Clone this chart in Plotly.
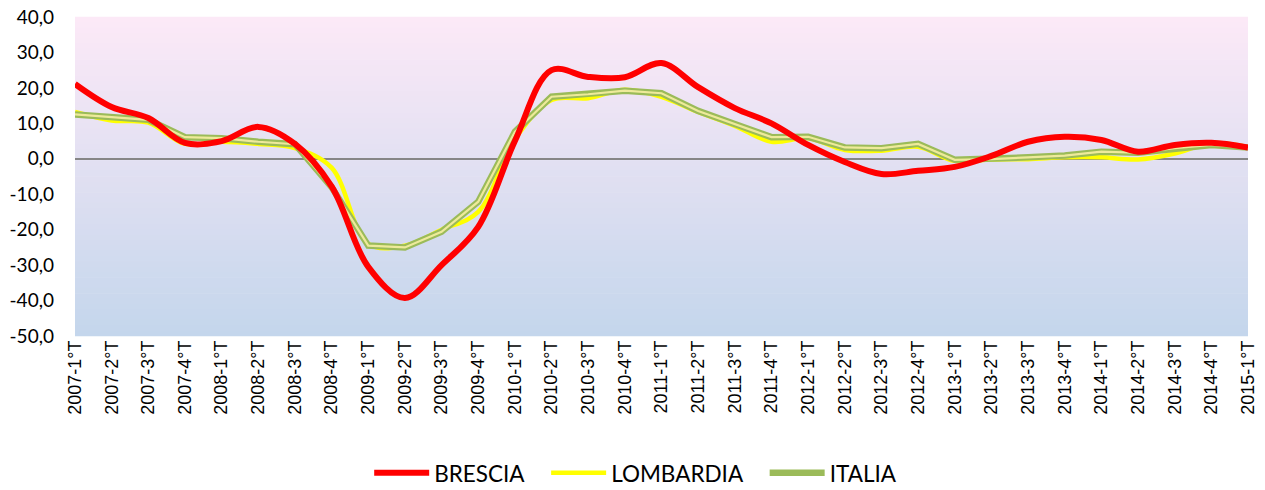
import plotly.graph_objects as go

quarters = ["2007-1°T","2007-2°T","2007-3°T","2007-4°T","2008-1°T","2008-2°T","2008-3°T","2008-4°T",
            "2009-1°T","2009-2°T","2009-3°T","2009-4°T","2010-1°T","2010-2°T","2010-3°T","2010-4°T",
            "2011-1°T","2011-2°T","2011-3°T","2011-4°T","2012-1°T","2012-2°T","2012-3°T","2012-4°T",
            "2013-1°T","2013-2°T","2013-3°T","2013-4°T","2014-1°T","2014-2°T","2014-3°T","2014-4°T",
            "2015-1°T"]

brescia = [21.1, 14.6, 11.5, 4.5, 5.0, 9.0, 4.2, -7.8, -30.5, -39.3, -30.0, -19.2, 5.0, 25.0, 23.1, 23.0,
           27.0, 20.2, 14.3, 10.0, 3.9, -0.9, -4.3, -3.4, -2.3, 0.8, 4.8, 6.2, 5.3, 2.0, 3.9, 4.5, 3.2]
lombardia = [13.2, 10.8, 10.2, 4.2, 4.8, 4.2, 3.0, -2.5, -24.0, -24.5, -20.0, -15.0, 5.5, 16.6, 17.1, 19.5,
             17.5, 13.2, 9.3, 4.8, 5.8, 2.5, 2.3, 3.4, -0.6, -0.2, -0.1, 0.4, 0.4, -0.2, 1.5, 4.4, 3.3]
italia = [12.5, 11.8, 11.0, 6.1, 5.8, 4.8, 4.1, -8.0, -24.5, -25.0, -20.6, -12.1, 7.6, 17.5, 18.2, 19.2,
          18.5, 13.5, 9.8, 6.1, 6.2, 3.2, 3.0, 4.2, -0.3, -0.1, 0.4, 0.9, 2.0, 1.7, 3.0, 3.9, 3.2]

y_ticks = [40, 30, 20, 10, 0, -10, -20, -30, -40, -50]
y_labels = ["40,0", "30,0", "20,0", "10,0", "0,0", "-10,0", "-20,0", "-30,0", "-40,0", "-50,0"]

PAD = "\u00a0\u00a0\u00a0"

fig = go.Figure()

fig.add_trace(go.Scatter(x=quarters, y=lombardia, mode="lines", name="LOMBARDIA" + PAD,
                         line=dict(color="#FFFF00", width=4.5, shape="spline", smoothing=1.0)))
fig.add_trace(go.Scatter(x=quarters, y=italia, mode="lines", name="ITALIA",
                         line=dict(color="#9BBB59", width=6.5)))
fig.add_trace(go.Scatter(x=quarters, y=italia, mode="lines", name="ITALIA_in",
                         line=dict(color="#EEEA9A", width=2.2), showlegend=False, hoverinfo="skip"))
fig.add_trace(go.Scatter(x=quarters, y=brescia, mode="lines", name="BRESCIA" + PAD,
                         line=dict(color="#FF0000", width=6, shape="spline", smoothing=1.0)))

# gradient background
top = (252, 233, 247)
bot = (196, 214, 236)
n = 60
shapes = []
for i in range(n):
    t = i / (n - 1)
    c = tuple(round(top[k] + (bot[k] - top[k]) * t) for k in range(3))
    y1 = 1 - i / n
    y0 = 1 - (i + 1) / n
    shapes.append(dict(type="rect", xref="paper", yref="paper", x0=0, x1=1, y0=y0 - 0.001, y1=y1 + 0.001,
                       fillcolor="rgb(%d,%d,%d)" % c, line=dict(width=0), layer="below"))

fig.update_layout(
    width=1265, height=490,
    margin=dict(l=75, r=17, t=17, b=154, autoexpand=False),
    paper_bgcolor="white",
    plot_bgcolor="rgba(0,0,0,0)",
    shapes=shapes,
    legend=dict(orientation="h", x=0.478, xanchor="center", y=-0.43, yanchor="middle",
                font=dict(family="Lato, Open Sans, sans-serif", size=22.5, color="#000000"),
                itemwidth=55, bgcolor="rgba(0,0,0,0)"),
    xaxis=dict(type="category", range=[0, len(quarters) - 1], tickangle=-90, showgrid=False,
               zeroline=False, showline=False, ticks="", automargin=False,
               tickfont=dict(family="Liberation Sans, Arial, sans-serif", size=18, color="#000000")),
    yaxis=dict(range=[-50, 40], tickvals=y_ticks, ticktext=y_labels, showgrid=False,
               zeroline=True, zerolinecolor="#868686", zerolinewidth=1.8, showline=False, ticks="",
               automargin=False, ticklabelstandoff=20,
               tickfont=dict(family="Lato, Open Sans, sans-serif", size=19, color="#000000")),
)

# legend order: BRESCIA, LOMBARDIA, ITALIA
fig.data[3].legendrank = 1
fig.data[0].legendrank = 2
fig.data[1].legendrank = 3

fig.write_html("out.html", config={"displayModeBar": False},
               post_script="document.body.style.margin='0';document.body.style.overflow='hidden';")
